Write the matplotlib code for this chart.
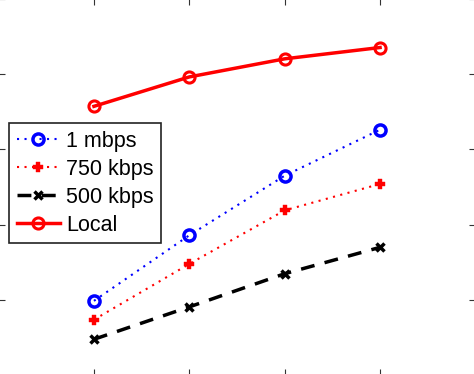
import matplotlib.pyplot as plt

plt.rcParams['font.family'] = ['Liberation Sans', 'DejaVu Sans']

x = [1, 2, 3, 4]
local = [3.57, 3.96, 4.20, 4.35]
mbps1 = [0.99, 1.86, 2.65, 3.26]
kbps750 = [0.74, 1.48, 2.19, 2.54]
kbps500 = [0.48, 0.91, 1.35, 1.70]

fig = plt.figure(figsize=(4.74, 3.74), dpi=100)
# axes slightly larger than the figure: only the inward ticks show at the edges
ax = fig.add_axes([-0.003, -0.004, 1.006, 1.008])

ax.plot(x, mbps1, color='#0000ff', lw=1.5, dashes=(1, 2.6), marker='o', ms=8,
        mfc='none', mec='#0000ff', mew=2.5, label='1 mbps')
ax.plot(x, kbps750, color='#ff0000', lw=1.5, dashes=(1, 2.6), marker='P', ms=7,
        mfc='#ff0000', mec='#ff0000', mew=0.3, label='750 kbps')
ax.plot(x, kbps500, color='black', lw=2.5, dashes=(4, 3), marker='x', ms=6,
        mew=2.5, label='500 kbps')
ax.plot(x, local, '-', color='#ff0000', lw=2.5, marker='o', ms=8,
        mfc='none', mec='#ff0000', mew=2.2, label='Local')

ax.set_xlim(0, 5)
ax.set_ylim(0, 5)
ax.set_xticks(x)
ax.set_yticks([0, 1, 2, 3, 4, 5])
ax.tick_params(direction='in', length=4.5, width=0.8, colors='#333333',
               labelleft=False, labelbottom=False, top=True, right=True)
for s in ax.spines.values():
    s.set_visible(False)

leg = ax.legend(loc='upper left', bbox_to_anchor=(9 / 474, 1 - 123 / 374),
                bbox_transform=fig.transFigure, borderaxespad=0,
                fontsize=15.5, handlelength=2.0, handletextpad=0.3,
                labelspacing=0.33, borderpad=0.35, fancybox=False,
                framealpha=1, edgecolor='#222222')
leg.get_frame().set_linewidth(1.2)

fig.savefig('out.png', dpi=100)
